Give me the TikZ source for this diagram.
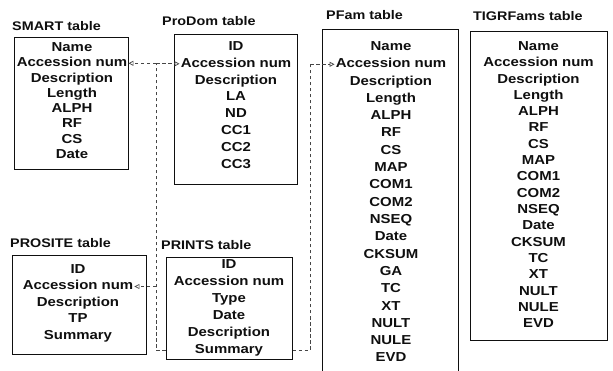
\documentclass[tikz,border=0pt]{standalone}
\usepackage{fontspec}
\setmainfont[FakeStretch=1.15]{Liberation Sans}
\usepackage{xcolor}
\usetikzlibrary{arrows.meta, calc}
\definecolor{ink}{RGB}{15, 15, 15}
\definecolor{linkgray}{RGB}{70, 70, 70}

\tikzset{
  tablebox/.style={draw=ink, line width=1pt, inner sep=0pt},
  tabletitle/.style={anchor=west, inner sep=0pt, text=ink, font=\bfseries\fontsize{12.5}{14}\selectfont},
  field/.style={inner sep=0pt, text height=9.5pt, text depth=2.5pt, text=ink, font=\bfseries\fontsize{13}{15}\selectfont},
  link/.style={draw=linkgray, line width=0.7pt, dash pattern=on 3.5pt off 2.5pt},
  linkarrow/.style={link, shorten >=1pt, -{Triangle[open, length=5pt, width=5pt]}}
}

\begin{document}
\begin{tikzpicture}[x=1pt, y=-1pt]
  \useasboundingbox (0,0) rectangle (613,371);
  % SMART table
  \node[tablebox, minimum width=114, minimum height=132] (smart) at (71,104) {};
  \node[tabletitle] (smart-title) at (12,26) {SMART table};
  \foreach \fld [count=\i] in {Name, Accession num, Description, Length, ALPH, RF, CS, Date}
    \node[field] (smart-\i) at (72, {48+15.3*(\i-1)}) {\fld};
  % ProDom table
  \node[tablebox, minimum width=123, minimum height=150] (prodom) at (235.5,110) {};
  \node[tabletitle] (prodom-title) at (162,21) {ProDom table};
  \foreach \fld [count=\i] in {ID, Accession num, Description, LA, ND, CC1, CC2, CC3}
    \node[field] (prodom-\i) at (236, {47+16.8*(\i-1)}) {\fld};
  % PFam table - runs off the page
  \node[tablebox, minimum width=136, minimum height=345] (pfam) at (390,202.5) {};
  \node[tabletitle] (pfam-title) at (326,15) {PFam table};
  \foreach \fld [count=\i] in {Name, Accession num, Description, Length, ALPH, RF, CS, MAP, COM1, COM2,
                               NSEQ, Date, CKSUM, GA, TC, XT, NULT, NULE, EVD}
    \node[field] (pfam-\i) at (391, {47+17.3*(\i-1)}) {\fld};
  % TIGRFams table
  \node[tablebox, minimum width=137, minimum height=308] (tigr) at (538.5,186) {};
  \node[tabletitle] (tigr-title) at (473,16) {TIGRFams table};
  \foreach \fld [count=\i] in {Name, Accession num, Description, Length, ALPH, RF, CS, MAP, COM1, COM2,
                               NSEQ, Date, CKSUM, TC, XT, NULT, NULE, EVD}
    \node[field] (tigr-\i) at (538.5, {47+16.3*(\i-1)}) {\fld};
  % PROSITE table
  \node[tablebox, minimum width=134, minimum height=98] (prosite) at (79,305) {};
  \node[tabletitle] (prosite-title) at (10,243) {PROSITE table};
  \foreach \fld [count=\i] in {ID, Accession num, Description, TP, Summary}
    \node[field] (prosite-\i) at (78, {270+16.5*(\i-1)}) {\fld};
  % PRINTS table
  \node[tablebox, minimum width=126, minimum height=101] (prints) at (229,308.5) {};
  \node[tabletitle] (prints-title) at (161,245) {PRINTS table};
  \foreach \fld [count=\i] in {ID, Accession num, Type, Date, Description, Summary}
    \node[field] (prints-\i) at (229, {265+17*(\i-1)}) {\fld};
  % links from PRINTS summary
  \coordinate (lbus) at (156,0);
  \coordinate (rbus) at (310,0);
  \draw[link] (prints.west |- prints-6) -- (prints-6 -| lbus) -- (smart-2 -| lbus);
  \draw[linkarrow] (smart-2 -| lbus) -- (smart-2.east);
  \draw[linkarrow] (prodom-2 -| lbus) -- (prodom-2.west);
  \draw[linkarrow] (prosite-2 -| lbus) -- (prosite-2.east);
  \draw[link] (prints.east |- prints-6) -- (prints-6 -| rbus) -- (pfam-2 -| rbus);
  \draw[linkarrow] (pfam-2 -| rbus) -- (pfam-2.west);
\end{tikzpicture}
\end{document}
